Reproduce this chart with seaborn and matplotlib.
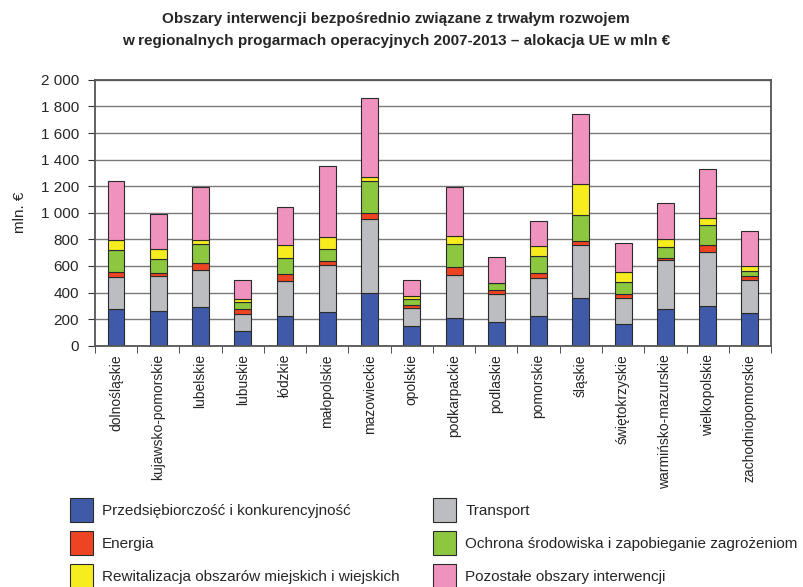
import matplotlib
matplotlib.use('Agg')
import numpy as np
import matplotlib.pyplot as plt
import seaborn as sns
from matplotlib.patches import Patch
from matplotlib.ticker import FuncFormatter

# regions (x axis) and EU allocation per intervention area, mln EUR
regions = ['dolnośląskie', 'kujawsko-pomorskie', 'lubelskie', 'lubuskie', 'łódzkie',
           'małopolskie', 'mazowieckie', 'opolskie', 'podkarpackie', 'podlaskie',
           'pomorskie', 'śląskie', 'świętokrzyskie', 'warmińsko-mazurskie',
           'wielkopolskie', 'zachodniopomorskie']

przedsiebiorczosc = [275, 262, 295, 110, 225, 252, 395, 152, 210, 180, 225, 357, 160, 280, 300, 245]
transport = [242, 263, 275, 130, 265, 353, 555, 135, 322, 207, 282, 398, 200, 362, 407, 250]
energia = [35, 25, 50, 35, 47, 32, 45, 18, 58, 33, 38, 30, 30, 20, 48, 30]
ochrona = [165, 105, 145, 52, 125, 93, 245, 45, 175, 50, 127, 200, 92, 78, 150, 37]
rewitalizacja = [75, 70, 27, 23, 93, 90, 32, 22, 57, 5, 75, 230, 70, 62, 55, 35]
pozostale = [445, 267, 400, 142, 287, 530, 593, 120, 373, 195, 188, 530, 218, 268, 370, 263]

names = ['Przedsiębiorczość i konkurencyjność', 'Transport', 'Energia',
         'Ochrona środowiska i zapobieganie zagrożeniom',
         'Rewitalizacja obszarów miejskich i wiejskich', 'Pozostałe obszary interwencji']
colors = ['#3f5aa8', '#bcbdc0', '#ee4423', '#8dc63f', '#f7ec1e', '#f092be']
series = [przedsiebiorczosc, transport, energia, ochrona, rewitalizacja, pozostale]

sns.set_style('white')
plt.rcParams['font.family'] = ['Liberation Sans', 'DejaVu Sans']

fig, ax = plt.subplots(figsize=(8.04, 5.87), dpi=100)
fig.subplots_adjust(left=0.118, right=0.959, top=0.864, bottom=0.411)

# stacked bars, one layer at a time
bottom = np.zeros(len(regions))
for vals, col in zip(series, colors):
    sns.barplot(x=regions, y=vals, bottom=bottom, color=col, saturation=1, width=0.4,
                edgecolor='#2b2b2b', linewidth=0.8, errorbar=None, ax=ax)
    bottom = bottom + np.array(vals)

ax.set_xlim(-0.5, len(regions) - 0.5)
ax.set_ylim(0, 2000)
ax.set_yticks(range(0, 2001, 200))
ax.yaxis.set_major_formatter(FuncFormatter(lambda v, p: format(int(v), ',').replace(',', ' ')))
ax.yaxis.grid(True, color='#7a7a7a', lw=1)
ax.set_axisbelow(True)

ax.set_xticks(range(len(regions)))
ax.set_xticklabels(regions, rotation=90, fontsize=10)
ax.set_xticks(np.arange(-0.5, len(regions), 1), minor=True)
ax.tick_params(axis='x', which='major', length=0, pad=6)
ax.tick_params(axis='x', which='minor', length=5, direction='out', color='#333', bottom=True)
ax.tick_params(axis='y', length=5, direction='out', color='#333', left=True, pad=6.5,
               labelsize=11)

for s in ax.spines.values():
    s.set_color('#555555')
    s.set_linewidth(1.3)
ax.set_xlabel('')
ax.set_ylabel('mln. €', fontsize=11)
ax.yaxis.set_label_coords(-0.101, 0.5)

fig.suptitle('Obszary interwencji bezpośrednio związane z trwałym rozwojem\n'
             'w regionalnych progarmach operacyjnych 2007-2013 – alokacja UE w mln €',
             x=0.493, y=0.979, fontsize=11, fontweight='bold', linespacing=1.72)

# legend: two columns at the bottom
order = [0, 2, 4, 1, 3, 5]
handles = [Patch(facecolor=colors[i], edgecolor='#2b2b2b', lw=0.8) for i in order]
labels = [names[i] for i in order]
fig.legend(handles, labels, ncol=2, loc='upper left', bbox_to_anchor=(0.087, 0.152),
           frameon=False, fontsize=11, handlelength=1.5, handleheight=2.04,
           labelspacing=0.59, columnspacing=2.2, handletextpad=0.6,
           borderpad=0, borderaxespad=0)

fig.savefig('out.png', dpi=100)
